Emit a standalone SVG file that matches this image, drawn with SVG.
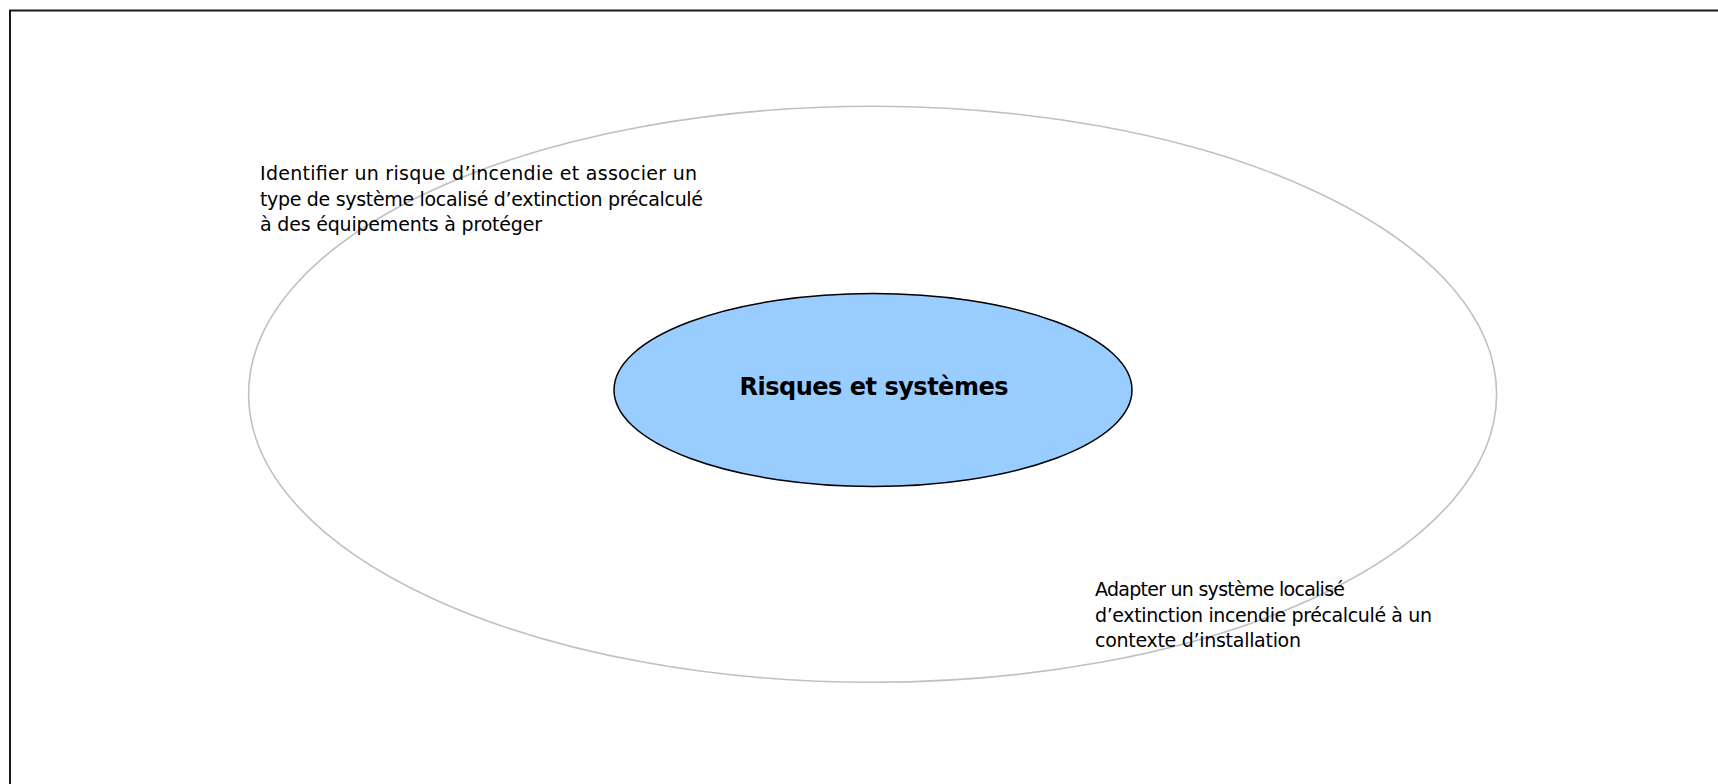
<svg xmlns="http://www.w3.org/2000/svg" width="1718" height="784" viewBox="0 0 1718 784">
<style>
.lbl{font-family:"DejaVu Sans","Noto Sans",sans-serif;font-size:19px;fill:#000;}
.ttl{font-family:"DejaVu Sans","Noto Sans",sans-serif;font-size:24px;font-weight:bold;fill:#000;}
</style>
<rect x="0" y="0" width="1718" height="784" fill="#fff"/>
<rect x="10" y="10.5" width="1730" height="800" fill="none" stroke="#1a1a1a" stroke-width="2"/>
<g id="outer">
<ellipse cx="872.6" cy="394.3" rx="624" ry="288" fill="none" stroke="#c0c0c0" stroke-width="1.6"/>
</g>
<g id="center">
<ellipse cx="873" cy="390" rx="259" ry="96.5" fill="#99ccff" stroke="#000" stroke-width="1.5"/>
<text class="ttl" x="874" y="395" text-anchor="middle" textLength="269">Risques et systèmes</text>
</g>
<g id="label-identifier">
<text class="lbl" x="260" y="180" textLength="437">Identifier un risque d’incendie et associer un</text>
<text class="lbl" x="260" y="206" textLength="443">type de système localisé d’extinction précalculé</text>
<text class="lbl" x="260" y="231" textLength="282">à des équipements à protéger</text>
</g>
<g id="label-adapter">
<text class="lbl" x="1095" y="596" textLength="250">Adapter un système localisé</text>
<text class="lbl" x="1095" y="622" textLength="337">d’extinction incendie précalculé à un</text>
<text class="lbl" x="1095" y="647" textLength="206">contexte d’installation</text>
</g>
<g id="connectors"></g>
</svg>
